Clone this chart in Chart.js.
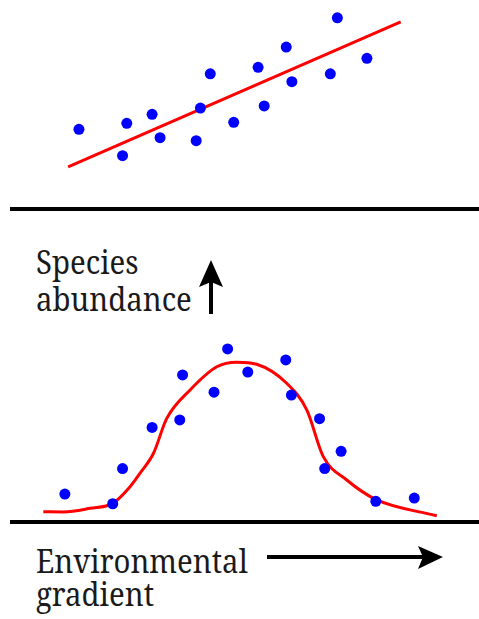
<!DOCTYPE html>
<html>
<head>
<meta charset="utf-8">
<script src="https://cdn.jsdelivr.net/npm/chart.js@4/dist/chart.umd.min.js"></script>
<style>
  html, body { margin: 0; padding: 0; background: #fff; }
  body { position: relative; width: 479px; height: 619px; overflow: hidden; }
  canvas { position: absolute; left: 0; }
  #topChart { top: 0; }
  #bottomChart { top: 322px; }
  .label {
    position: absolute;
    left: 36px;
    font-family: "Noto Serif", serif;
    font-size: 33px;
    line-height: 33px;
    color: #1a1a1a;
    white-space: nowrap;
    transform: scaleX(0.89);
    transform-origin: left top;
  }
  svg { position: absolute; left: 0; top: 0; }
</style>
</head>
<body>
<canvas id="topChart" width="479" height="211"></canvas>
<canvas id="bottomChart" width="479" height="202"></canvas>

<div class="label" style="top:245px">Species</div>
<div class="label" style="top:282px">abundance</div>
<div class="label" style="top:544px">Environmental</div>
<div class="label" style="top:577px">gradient</div>

<svg width="479" height="619">
  <line x1="211" y1="314" x2="211" y2="280" stroke="#000" stroke-width="4"/>
  <polygon points="211,260 223,287 211,282 199,287" fill="#000"/>
  <line x1="267" y1="557" x2="425" y2="557" stroke="#000" stroke-width="4"/>
  <polygon points="443,557 418,546 423,557 418,569" fill="#000"/>
</svg>

<script>
// upper panel: abundance rising along the gradient
const topX = [1.47, 2.49, 2.40, 3.03, 3.20, 3.97, 4.06, 4.27, 4.77, 5.29, 5.42, 5.89, 6.01, 6.83, 6.98, 7.61];
const topY = [3.81, 4.10, 2.55, 4.53, 3.41, 3.27, 4.83, 6.47, 4.15, 6.78, 4.93, 7.75, 6.09, 6.47, 9.15, 7.21];
const trendX = [1.24, 8.33];
const trendY = [2.02, 8.95];

// lower panel: unimodal response
const bottomX = [1.17, 2.19, 2.40, 3.03, 3.62, 3.68, 4.35, 4.64, 5.07, 5.88, 6.00, 6.60, 7.06, 6.71, 7.80, 8.62];
const bottomY = [1.47, 0.96, 2.81, 4.98, 5.37, 7.74, 6.83, 9.11, 7.89, 8.53, 6.68, 5.44, 3.72, 2.81, 1.09, 1.26];
const curveX = [0.71, 1.14, 1.71, 2.19, 2.56, 2.77, 3.06, 3.34, 3.84, 4.41, 4.83, 5.26, 5.90, 6.33, 6.68, 7.18, 7.82, 9.10];
const curveY = [0.54, 0.53, 0.72, 0.98, 1.86, 2.56, 3.62, 5.44, 6.95, 8.17, 8.41, 8.30, 7.30, 5.89, 3.44, 2.21, 1.16, 0.33];

const toPoints = (xs, ys) => xs.map((x, i) => ({ x: x, y: ys[i] }));

// thick black ground line at y = 0
const baseline = {
  id: 'baseline',
  beforeDatasetsDraw(chart) {
    const { ctx, chartArea, scales } = chart;
    const y = scales.y.getPixelForValue(0);
    ctx.save();
    ctx.strokeStyle = '#000';
    ctx.lineWidth = 4;
    ctx.beginPath();
    ctx.moveTo(chartArea.left, y);
    ctx.lineTo(chartArea.right, y);
    ctx.stroke();
    ctx.restore();
  }
};

function makeChart(id, xs, ys, lx, ly, padding, smooth) {
  const ctx = document.getElementById(id).getContext('2d');
  return new Chart(ctx, {
    type: 'scatter',
    data: {
      datasets: [{
        data: toPoints(xs, ys),
        backgroundColor: '#0000ff',
        borderWidth: 0,
        pointRadius: 5.5,
        clip: false
      }, {
        type: 'line',
        data: toPoints(lx, ly),
        borderColor: '#ff0000',
        borderWidth: 3,
        pointRadius: 0,
        fill: false,
        clip: false,
        cubicInterpolationMode: smooth ? 'monotone' : 'default'
      }]
    },
    options: {
      responsive: false,
      animation: false,
      devicePixelRatio: 1,
      layout: { padding: padding, autoPadding: false },
      plugins: {
        legend: { display: false },
        tooltip: { enabled: false }
      },
      scales: {
        x: { type: 'linear', display: false, min: 0, max: 10 },
        y: { display: false, min: 0, max: 10 }
      }
    },
    plugins: [baseline]
  });
}

makeChart('topChart', topX, topY, trendX, trendY, { left: 10, right: 0, top: 0, bottom: 2 }, false);
makeChart('bottomChart', bottomX, bottomY, curveX, curveY, { left: 10, right: 0, top: 10, bottom: 2 }, true);
</script>
</body>
</html>
